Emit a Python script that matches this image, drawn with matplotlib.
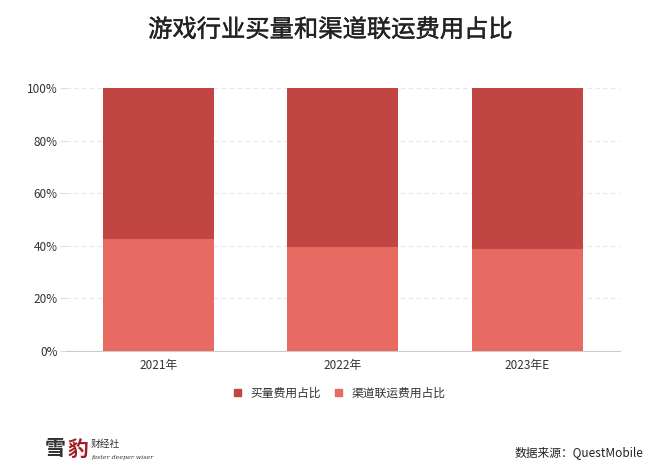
import matplotlib
matplotlib.use("Agg")
import matplotlib.pyplot as plt
from matplotlib.patches import Rectangle
import matplotlib.patheffects as pe

plt.rcParams['font.family'] = ['Noto Sans CJK SC', 'DejaVu Sans']

categories = ["2021年", "2022年", "2023年E"]
channel_share = [42.5, 39.7, 38.8]   # 渠道联运费用占比
buy_share = [57.5, 60.3, 61.2]       # 买量费用占比
yticks = [0, 20, 40, 60, 80, 100]

c_dark = "#C14543"
c_light = "#E76A63"

fig = plt.figure(figsize=(6.6, 4.75), dpi=100)
ax = fig.add_axes([0.1, 0.261, 0.839, 0.554])

x = list(range(len(categories)))
ax.bar(x, channel_share, width=0.6, color=c_light, zorder=3)
ax.bar(x, buy_share, width=0.6, bottom=channel_share, color=c_dark, zorder=3)

ax.set_xlim(-0.5, 2.5)
ax.set_ylim(0, 100)
ax.set_yticks(yticks)
ax.set_yticklabels([f"{v}%" for v in yticks], fontsize=8.5, color="#333333")
ax.set_xticks(x)
ax.set_xticklabels(categories, fontsize=8.5, color="#333333")
ax.tick_params(axis='y', length=4, color="#dddddd", pad=2)
ax.tick_params(axis='x', length=0, pad=6)
for s in ["top", "right", "left"]:
    ax.spines[s].set_visible(False)
ax.spines["bottom"].set_color("#cccccc")
ax.yaxis.grid(True, linestyle=(0, (4, 3)), color="#e6e6e6", linewidth=0.8, zorder=0)

fig.text(0.5, 0.937, "游戏行业买量和渠道联运费用占比", ha="center", va="center",
         fontsize=17.5, color="#222222",
         path_effects=[pe.withStroke(linewidth=0.3, foreground="#222222")])

# legend
h1 = Rectangle((0, 0), 1, 1, color=c_dark)
h2 = Rectangle((0, 0), 1, 1, color=c_light)
fig.legend([h1, h2], ["买量费用占比", "渠道联运费用占比"], loc="center",
           bbox_to_anchor=(0.515, 0.172), ncol=2, frameon=False, fontsize=8.5,
           handlelength=0.6, handleheight=0.6, columnspacing=1.2, handletextpad=0.8,
           labelcolor="#333333")

# footer
fig.text(0.068, 0.055, "雪", fontsize=15, color="#333333", ha="left", va="center",
         family=['Noto Sans CJK SC'], fontweight="bold")
fig.text(0.102, 0.055, "豹", fontsize=15, color="#a01e22", ha="left", va="center",
         family=['Noto Sans CJK SC'], fontweight="bold")
fig.text(0.138, 0.065, "财经社", fontsize=7, color="#333333", ha="left", va="center")
fig.text(0.138, 0.036, "faster deeper wiser", fontsize=4.5, color="#333333",
         ha="left", va="center", style="italic", family=['DejaVu Serif'])
fig.text(0.975, 0.048, "数据来源：QuestMobile", fontsize=8.5, color="#222222",
         ha="right", va="center")

fig.savefig("out.png", dpi=100, facecolor="white")
